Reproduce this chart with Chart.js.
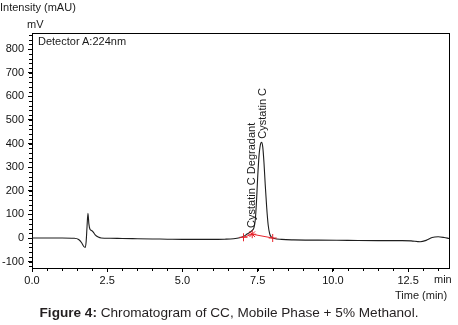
<!DOCTYPE html>
<html>
<head>
<meta charset="utf-8">
<script src="https://cdn.jsdelivr.net/npm/chart.js@4.4.1/dist/chart.umd.min.js"></script>
<style>
  body { margin:0; background:#fff; }
  #wrap { position:relative; width:458px; height:325px; }
  .t { position:absolute; font-family:'Liberation Sans', Arial, sans-serif; font-size:11px; line-height:13px; color:#1a1a1a; white-space:nowrap; }
  #cap { position:absolute; left:0; width:458px; top:305px; text-align:center; font-family:'Liberation Sans', Arial, sans-serif; font-size:13.6px; line-height:16px; color:#231f20; }
</style>
</head>
<body>
<div id="wrap">
  <canvas id="c" width="458" height="325"></canvas>
  <div class="t" style="left:0;top:1px">Intensity (mAU)</div>
  <div class="t" style="left:27px;top:18px">mV</div>
  <div class="t" style="left:38px;top:35px">Detector A:224nm</div>
  <div class="t" style="left:434px;top:273px">min</div>
  <div class="t" style="left:395px;top:289px">Time (min)</div>
  <div id="cap"><b>Figure 4:</b> Chromatogram of CC, Mobile Phase + 5% Methanol.</div>
</div>
<script>
// ---- data ----
const times = [0, 0.5, 1.0, 1.4, 1.55, 1.65, 1.72, 1.77, 1.80, 1.83, 1.86, 1.89, 1.93, 1.98, 2.03, 2.1, 2.2, 2.3, 2.6, 3.0, 3.5, 4.0, 4.5, 5.0, 5.5, 6.0, 6.4, 6.7, 6.9, 7.05, 7.15, 7.25, 7.32, 7.38, 7.42, 7.46, 7.50, 7.55, 7.60, 7.63, 7.67, 7.71, 7.75, 7.80, 7.85, 7.90, 7.95, 8.05, 8.3, 8.7, 9.5, 10.5, 11.5, 12.3, 12.6, 12.9, 13.1, 13.3, 13.5, 13.7, 13.86];
const signal = [0, 0, 0, -1, -6, -20, -36, -40, -15, 50, 105, 60, 36, 32, 26, 13, 4, 0, -1, -2, -3, -4, -5, -6, -6, -6, -5, -3, 1, 8, 17, 25, 32, 45, 75, 150, 255, 355, 400, 405, 385, 320, 230, 130, 55, 18, 5, -2, -6, -8, -9, -10, -11, -11, -12, -16, -10, 2, 5, 2, -2];
const baseTimes = [7.03, 7.32, 8.0];
const baseValues = [3, 16, 0];
const peakNames = ["Cystatin C Degradant", "Cystatin C"];
const peakTimes = [7.31, 7.67];
const peakValues = [34, 412];
const xTicks = [0, 2.5, 5.0, 7.5, 10.0, 12.5];
const yTicks = [-100, 0, 100, 200, 300, 400, 500, 600, 700, 800];
const xRange = [0, 13.86];
const yRange = [-127, 868];

const FONT = "'Liberation Sans', Arial, sans-serif";

const decor = {
  id: 'decor',
  afterDraw(chart) {
    const ctx = chart.ctx;
    const a = chart.chartArea;
    const xs = chart.scales.x, ys = chart.scales.y;
    ctx.save();
    ctx.strokeStyle = '#000';
    ctx.lineWidth = 1;
    ctx.beginPath();
    ctx.moveTo(a.left, a.top + 0.5); ctx.lineTo(a.right + 0.5, a.top + 0.5);
    ctx.moveTo(a.right + 0.5, a.top); ctx.lineTo(a.right + 0.5, a.bottom);
    // minor ticks
    for (let v = 0; v <= xRange[1] + 1e-9; v += 0.5) {
      const px = Math.round(xs.getPixelForValue(v)) + 0.5;
      ctx.moveTo(px, a.bottom); ctx.lineTo(px, a.bottom + 3);
    }
    for (let v = -120; v <= yRange[1]; v += 20) {
      const py = Math.round(ys.getPixelForValue(v)) + 0.5;
      ctx.moveTo(a.left - 3, py); ctx.lineTo(a.left, py);
    }
    ctx.stroke();
    // peak labels
    ctx.fillStyle = '#1a1a1a';
    ctx.font = '11px ' + FONT;
    ctx.textAlign = 'left';
    ctx.textBaseline = 'middle';
    peakNames.forEach((name, i) => {
      const px = xs.getPixelForValue(peakTimes[i]);
      const py = ys.getPixelForValue(peakValues[i]);
      ctx.save();
      ctx.translate(px, py - 2);
      ctx.rotate(-Math.PI / 2);
      ctx.fillText(name, 0, 0);
      ctx.restore();
    });
    ctx.restore();
  }
};

new Chart(document.getElementById('c'), {
  type: 'line',
  data: {
    datasets: [
      {
        data: baseTimes.map((t, i) => ({ x: t, y: baseValues[i] })),
        borderColor: '#e8242c',
        backgroundColor: '#e8242c',
        borderWidth: 1,
        pointStyle: ['cross', 'star', 'cross'],
        pointRadius: 4,
        pointBorderWidth: 1,
        pointBorderColor: '#e8242c',
        tension: 0,
        order: 0
      },
      {
        data: times.map((t, i) => ({ x: t, y: signal[i] })),
        borderColor: '#1e1e1e',
        borderWidth: 1.1,
        pointRadius: 0,
        cubicInterpolationMode: 'monotone',
        fill: false,
        order: 1
      }
    ]
  },
  options: {
    responsive: false,
    animation: false,
    layout: { padding: { top: 33, right: 9, left: 0, bottom: 0 } },
    plugins: { legend: { display: false }, tooltip: { enabled: false } },
    scales: {
      x: {
        type: 'linear',
        min: xRange[0], max: xRange[1],
        afterBuildTicks: s => { s.ticks = xTicks.map(v => ({ value: v })); },
        afterFit: s => { s.height = 57; },
        ticks: {
          callback: v => Number(v).toFixed(1),
          color: '#111', font: { family: FONT, size: 11 }, padding: 2, maxRotation: 0, autoSkip: false
        },
        grid: { drawOnChartArea: false, tickLength: 4, color: '#000' },
        border: { color: '#000', width: 1 }
      },
      y: {
        min: yRange[0], max: yRange[1],
        afterBuildTicks: s => { s.ticks = yTicks.map(v => ({ value: v })); },
        afterFit: s => { s.width = 32; },
        ticks: {
          color: '#111', font: { family: FONT, size: 11 }, padding: 4, autoSkip: false
        },
        grid: { drawOnChartArea: false, tickLength: 4, color: '#000' },
        border: { color: '#000', width: 1 }
      }
    }
  },
  plugins: [decor]
});
</script>
</body>
</html>
